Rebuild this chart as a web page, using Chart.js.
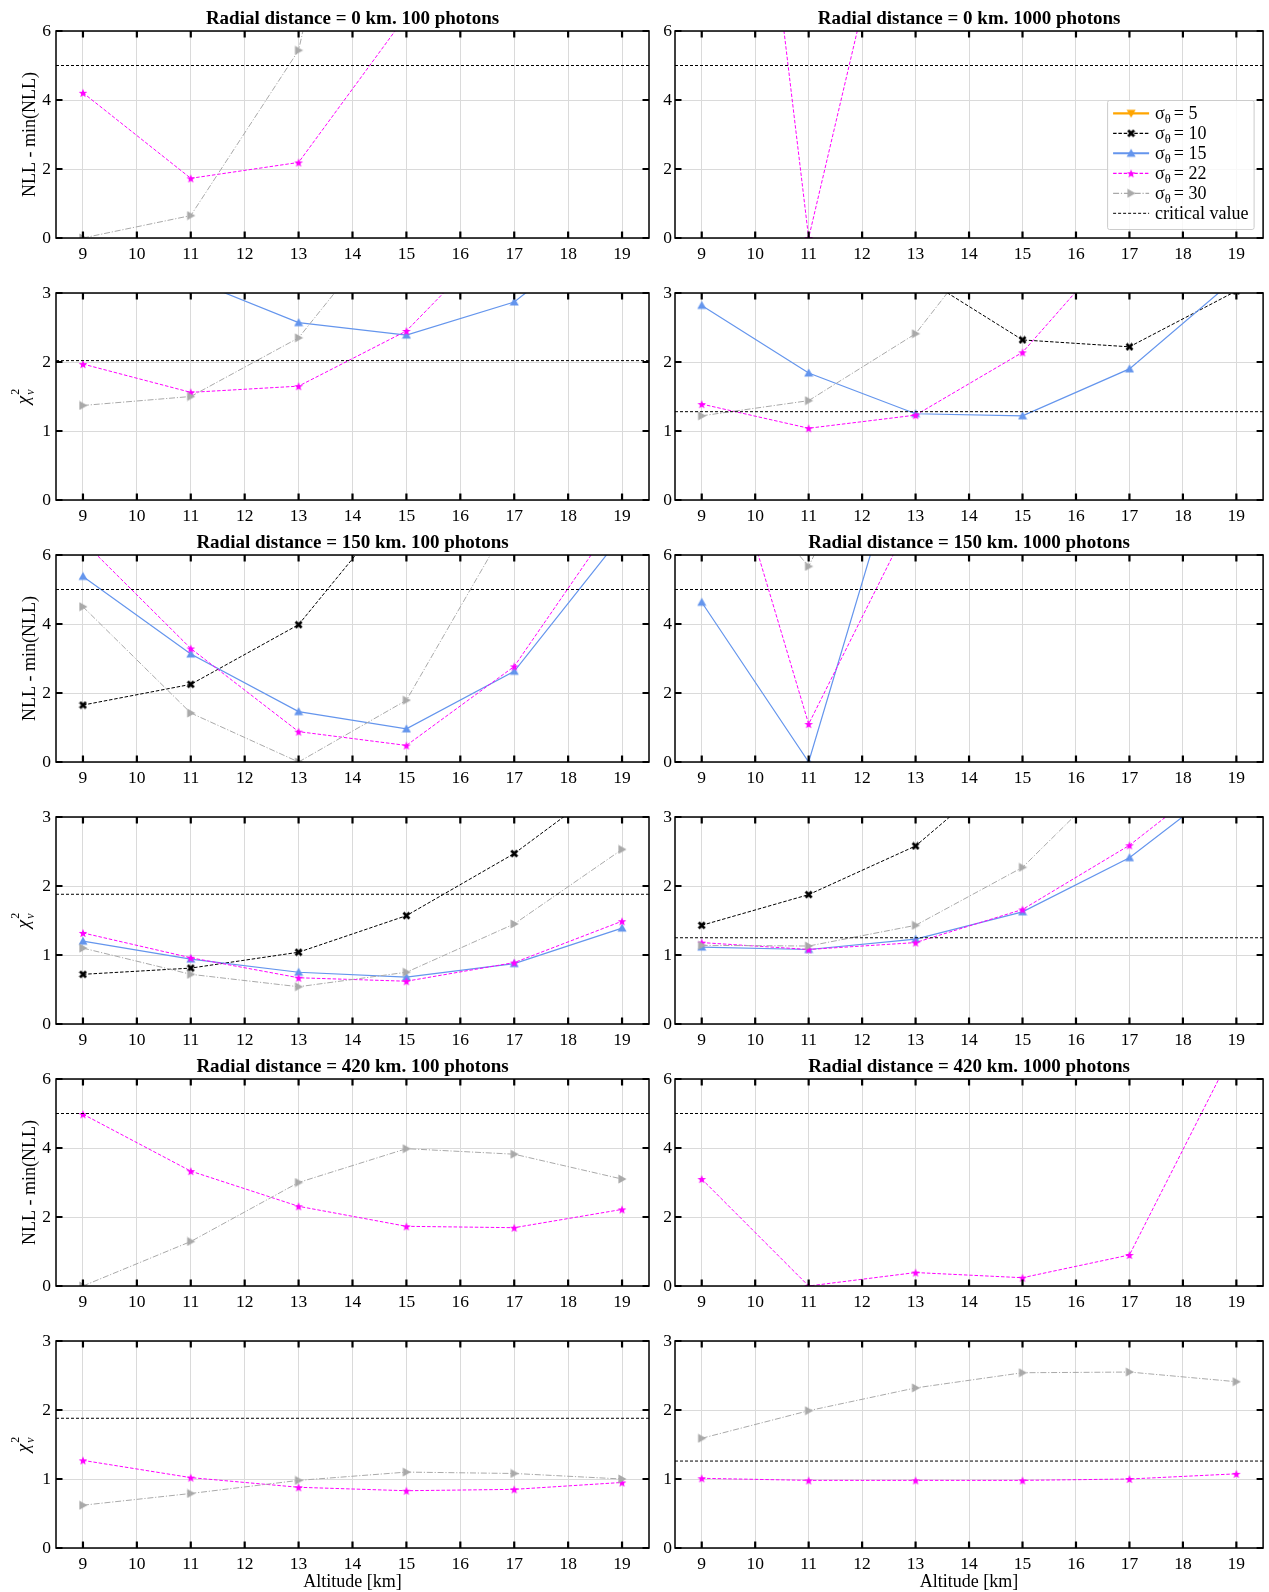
<!DOCTYPE html>
<html>
<head>
<meta charset="utf-8">
<script src="https://cdn.jsdelivr.net/npm/chart.js@4.4.0/dist/chart.umd.min.js"></script>
<style>
  html, body { margin: 0; padding: 0; background: #fff; }
  #page { position: relative; width: 1269px; height: 1592px; overflow: hidden; background: #fff; }
  #page canvas { position: absolute; }
</style>
</head>
<body>
<div id="page"></div>
<script>
// ---- data -------------------------------------------------------------
var altitudes = [9, 11, 13, 15, 17, 19];
var xTicks = [9, 10, 11, 12, 13, 14, 15, 16, 17, 18, 19];
var nllTicks = [0, 2, 4, 6];
var chiTicks = [0, 1, 2, 3];
var sigmaLabels = ['5', '10', '15', '22', '30'];
var radialDistances = [0, 150, 420];
var photonCounts = [100, 1000];

// rows: sigma 5, 10, 15, 22, 30 (null = not on the plot)
var nllR0P100 = [
  [null, null, null, null, null, null],
  [null, null, null, null, null, null],
  [null, null, null, null, null, null],
  [4.21, 1.73, 2.19, 6.45, null, null],
  [0.00, 0.65, 5.44, 19.4, null, null]
];
var chiR0P100 = [
  [null, null, null, null, null, null],
  [null, null, null, null, null, null],
  [3.60, 3.20, 2.57, 2.39, 2.87, 4.10],
  [1.97, 1.56, 1.65, 2.45, 4.05, null],
  [1.37, 1.50, 2.35, 4.30, null, null]
];
var nllR0P1000 = [
  [null, null, null, null, null, null],
  [null, null, null, null, null, null],
  [null, null, null, null, null, null],
  [26.0, 0.00, 13.2, null, null, null],
  [null, null, null, null, null, null]
];
var chiR0P1000 = [
  [null, null, null, null, null, null],
  [null, null, 3.29, 2.32, 2.22, 3.03],
  [2.82, 1.84, 1.25, 1.22, 1.90, 3.22],
  [1.39, 1.04, 1.23, 2.14, 3.90, null],
  [1.22, 1.44, 2.41, 4.40, null, null]
];
var nllR150P100 = [
  [null, null, null, null, null, null],
  [1.65, 2.25, 3.98, 7.80, null, null],
  [5.38, 3.13, 1.46, 0.96, 2.63, 6.57],
  [6.40, 3.29, 0.88, 0.48, 2.77, 7.30],
  [4.50, 1.42, 0.00, 1.79, 7.20, null]
];
var chiR150P100 = [
  [null, null, null, null, null, null],
  [0.72, 0.81, 1.04, 1.57, 2.47, 3.63],
  [1.20, 0.94, 0.75, 0.68, 0.875, 1.39],
  [1.32, 0.96, 0.67, 0.62, 0.89, 1.49],
  [1.10, 0.72, 0.54, 0.75, 1.45, 2.53]
];
var nllR150P1000 = [
  [null, null, null, null, null, null],
  [null, null, null, null, null, null],
  [4.63, 0.00, 10.4, null, null, null],
  [11.5, 1.10, 7.30, null, null, null],
  [9.30, 5.67, 12.0, null, null, null]
];
var chiR150P1000 = [
  [null, null, null, null, null, null],
  [1.43, 1.875, 2.58, 3.90, null, null],
  [1.115, 1.08, 1.23, 1.625, 2.41, 3.60],
  [1.18, 1.08, 1.18, 1.66, 2.59, 3.80],
  [1.14, 1.13, 1.43, 2.27, 3.80, null]
];
var nllR420P100 = [
  [null, null, null, null, null, null],
  [null, null, null, null, null, null],
  [null, null, null, null, null, null],
  [4.98, 3.33, 2.31, 1.73, 1.69, 2.22],
  [0.00, 1.29, 3.00, 3.98, 3.82, 3.10]
];
var chiR420P100 = [
  [null, null, null, null, null, null],
  [null, null, null, null, null, null],
  [null, null, null, null, null, null],
  [1.27, 1.02, 0.88, 0.83, 0.85, 0.95],
  [0.62, 0.79, 0.98, 1.10, 1.08, 1.00]
];
var nllR420P1000 = [
  [null, null, null, null, null, null],
  [null, null, null, null, null, null],
  [null, null, null, null, null, null],
  [3.10, 0.00, 0.39, 0.24, 0.90, 7.00],
  [null, null, null, null, null, null]
];
var chiR420P1000 = [
  [null, null, null, null, null, null],
  [null, null, null, null, null, null],
  [null, null, null, null, null, null],
  [1.01, 0.98, 0.98, 0.98, 1.00, 1.075],
  [1.59, 1.99, 2.32, 2.54, 2.55, 2.41]
];

var critNll = 5;
var critChi = [[2.02, 1.28], [1.88, 1.25], [1.88, 1.26]];

var nllPanels = [[nllR0P100, nllR0P1000], [nllR150P100, nllR150P1000], [nllR420P100, nllR420P1000]];
var chiPanels = [[chiR0P100, chiR0P1000], [chiR150P100, chiR150P1000], [chiR420P100, chiR420P1000]];

// ---- styles -----------------------------------------------------------
var X_MIN = 8.5, X_MAX = 19.5;
var FONT = '"Liberation Serif", "Times New Roman", serif';

function makeMarker(kind, color, size) {
  var c = document.createElement('canvas');
  c.width = size; c.height = size;
  var g = c.getContext('2d');
  var m = size / 2, r = size / 2 - 0.5;
  g.fillStyle = color;
  g.strokeStyle = color;
  g.beginPath();
  if (kind == 'up') {
    g.moveTo(m, m - r); g.lineTo(m + r, m + r * 0.8); g.lineTo(m - r, m + r * 0.8);
  } else if (kind == 'down') {
    g.moveTo(m, m + r); g.lineTo(m - r, m - r * 0.8); g.lineTo(m + r, m - r * 0.8);
  } else if (kind == 'right') {
    g.moveTo(m + r, m); g.lineTo(m - r * 0.8, m - r); g.lineTo(m - r * 0.8, m + r);
  } else if (kind == 'star') {
    for (var k = 0; k < 10; k++) {
      var rr = k % 2 ? r * 0.42 : r;
      var ang = -Math.PI / 2 + k * Math.PI / 5;
      var px = m + rr * Math.cos(ang), py = m + 0.5 + rr * Math.sin(ang);
      if (k == 0) g.moveTo(px, py); else g.lineTo(px, py);
    }
  } else if (kind == 'x') {
    g.lineWidth = size * 0.3;
    g.moveTo(1.5, 1.5); g.lineTo(size - 1.5, size - 1.5);
    g.moveTo(size - 1.5, 1.5); g.lineTo(1.5, size - 1.5);
    g.stroke();
    return c;
  }
  g.closePath();
  g.fill();
  return c;
}

var seriesStyle = [
  { color: '#ffa500', width: 1.4, dash: [], marker: makeMarker('down', '#ffa500', 10) },
  { color: '#000000', width: 1, dash: [3.5, 1.8], marker: makeMarker('x', '#000000', 9) },
  { color: '#6495ed', width: 1.2, dash: [], marker: makeMarker('up', '#6495ed', 10) },
  { color: '#ff00ff', width: 1, dash: [3.5, 1.8], marker: makeMarker('star', '#ff00ff', 10) },
  { color: '#a9a9a9', width: 1, dash: [6, 1.8, 1.2, 1.8], marker: makeMarker('right', '#a9a9a9', 10) }
];

// ---- frame, titles and legend ----------------------------------------
var panelFrame = {
  id: 'panelFrame',
  afterDraw: function (chart, args, opts) {
    var ctx = chart.ctx, a = chart.chartArea;
    var xs = chart.scales.x, ys = chart.scales.y;
    ctx.save();
    ctx.strokeStyle = '#000';
    ctx.lineWidth = 2.2;
    ctx.beginPath();
    xs.ticks.forEach(function (t) {
      var px = xs.getPixelForValue(t.value);
      ctx.moveTo(px, a.bottom); ctx.lineTo(px, a.bottom - 6.5);
      ctx.moveTo(px, a.top); ctx.lineTo(px, a.top + 6.5);
    });
    ys.ticks.forEach(function (t) {
      var py = ys.getPixelForValue(t.value);
      ctx.moveTo(a.left, py); ctx.lineTo(a.left + 6.5, py);
      ctx.moveTo(a.right, py); ctx.lineTo(a.right - 6.5, py);
    });
    ctx.stroke();
    ctx.lineWidth = 1.5;
    ctx.strokeRect(a.left, a.top, a.right - a.left, a.bottom - a.top);

    ctx.fillStyle = '#000';
    if (opts.title) {
      ctx.font = 'bold 19px ' + FONT;
      ctx.textAlign = 'center';
      ctx.textBaseline = 'middle';
      ctx.fillText(opts.title, (a.left + a.right) / 2, a.top - 12);
    }
    var cy = (a.top + a.bottom) / 2;
    if (opts.yTitle == 'nll') {
      ctx.save();
      ctx.translate(30.5, cy);
      ctx.rotate(-Math.PI / 2);
      ctx.font = '18px ' + FONT;
      ctx.textAlign = 'center';
      ctx.textBaseline = 'middle';
      ctx.fillText('NLL - min(NLL)', 0, 0);
      ctx.restore();
    } else if (opts.yTitle == 'chi') {
      ctx.save();
      ctx.translate(22, cy);
      ctx.rotate(-Math.PI / 2);
      ctx.textAlign = 'left';
      ctx.textBaseline = 'alphabetic';
      ctx.font = 'italic 19px ' + FONT;
      var wc = ctx.measureText('χ').width;
      ctx.font = '12px ' + FONT;
      var ws = Math.max(ctx.measureText('2').width, ctx.measureText('ν').width);
      var x0 = -(wc + ws + 1) / 2;
      ctx.font = 'italic 19px ' + FONT;
      ctx.fillText('χ', x0, 7);
      ctx.font = '12px ' + FONT;
      ctx.fillText('2', x0 + wc + 1, -3);
      ctx.font = 'italic 12px ' + FONT;
      ctx.fillText('ν', x0 + wc + 1, 12);
      ctx.restore();
    }

    if (opts.legend) {
      var lx = a.right - 155.5, ly = a.top + 69.5;
      ctx.fillStyle = 'rgba(255,255,255,0.8)';
      ctx.strokeStyle = '#cccccc';
      ctx.lineWidth = 1;
      ctx.beginPath();
      ctx.roundRect(lx, ly, 146.5, 129, 2);
      ctx.fill();
      ctx.stroke();
      chart.data.datasets.forEach(function (d, i) {
        var yy = a.top + 82.3 + 20 * i;
        ctx.save();
        ctx.strokeStyle = d.borderColor;
        ctx.lineWidth = d.sigma ? Math.max(d.borderWidth, 1.2) + (d.borderDash.length ? 0 : 0.8) : 1;
        ctx.setLineDash(d.borderDash || []);
        ctx.beginPath();
        ctx.moveTo(a.right - 150, yy); ctx.lineTo(a.right - 114, yy);
        ctx.stroke();
        ctx.restore();
        if (d.sigma) {
          var img = d.pointStyle;
          ctx.drawImage(img, a.right - 132 - img.width / 2, yy - img.height / 2);
        }
        var tx = a.right - 108;
        ctx.fillStyle = '#000';
        ctx.textAlign = 'left';
        ctx.textBaseline = 'alphabetic';
        if (d.sigma) {
          ctx.font = '18px ' + FONT;
          ctx.fillText('σ', tx, yy + 5.5);
          tx += ctx.measureText('σ').width;
          ctx.font = '12.5px ' + FONT;
          ctx.fillText('θ', tx, yy + 9.5);
          tx += ctx.measureText('θ').width + 3;
          ctx.font = '18px ' + FONT;
          ctx.fillText('= ' + d.sigma, tx, yy + 5.5);
        } else {
          ctx.font = '18px ' + FONT;
          ctx.fillText(d.label, tx, yy + 5.5);
        }
      });
    }
    ctx.restore();
  }
};

function buildDatasets(values, crit) {
  var ds = values.map(function (vals, i) {
    var st = seriesStyle[i];
    return {
      label: 'σθ = ' + sigmaLabels[i],
      sigma: sigmaLabels[i],
      data: altitudes.map(function (a, k) { return { x: a, y: vals[k] }; }),
      borderColor: st.color,
      backgroundColor: st.color,
      borderWidth: st.width,
      borderDash: st.dash,
      pointStyle: st.marker,
      pointRadius: 4.5,
      pointHoverRadius: 4.5,
      tension: 0,
      spanGaps: false,
      fill: false,
      order: 10 - i
    };
  });
  ds.push({
    label: 'critical value',
    data: [{ x: X_MIN, y: crit }, { x: X_MAX, y: crit }],
    borderColor: '#000000',
    borderWidth: 1,
    borderDash: [3, 2],
    pointRadius: 0,
    fill: false,
    order: 0
  });
  return ds;
}

Chart.defaults.font.family = FONT;
Chart.defaults.font.size = 17.5;
Chart.defaults.color = '#000';

var page = document.getElementById('page');

function addPanel(row, col, values, crit, kind, title, legend) {
  var panelTop = 31 + 262 * row;
  var canvasTop = panelTop - 30;
  var last = row == 5;
  var cv = document.createElement('canvas');
  cv.width = col ? 609 : 660;
  cv.height = last ? 1592 - canvasTop : 263;
  cv.style.left = (col ? 660 : 0) + 'px';
  cv.style.top = canvasTop + 'px';
  page.appendChild(cv);
  var yTicks = kind == 'nll' ? nllTicks : chiTicks;

  new Chart(cv.getContext('2d'), {
    type: 'line',
    data: { datasets: buildDatasets(values, crit) },
    plugins: [panelFrame],
    options: {
      responsive: false,
      animation: false,
      events: [],
      devicePixelRatio: 1,
      layout: { padding: { top: 30, left: 0, right: col ? 1 : 11, bottom: 0 } },
      plugins: {
        legend: { display: false },
        tooltip: { enabled: false },
        panelFrame: { title: title, yTitle: col ? null : kind, legend: legend }
      },
      scales: {
        x: {
          type: 'linear',
          min: X_MIN,
          max: X_MAX,
          afterBuildTicks: function (s) { s.ticks = xTicks.map(function (v) { return { value: v }; }); },
          afterFit: function (s) { s.height = last ? 44 : 26; },
          grid: { color: '#dadada', lineWidth: 1, drawTicks: false },
          border: { display: false },
          ticks: { padding: 6, font: { size: 17.5 }, maxRotation: 0 },
          title: { display: last, text: 'Altitude [km]', padding: { top: 0, bottom: -1 }, font: { size: 18 } }
        },
        y: {
          type: 'linear',
          min: yTicks[0],
          max: yTicks[yTicks.length - 1],
          afterBuildTicks: function (s) { s.ticks = yTicks.map(function (v) { return { value: v }; }); },
          afterFit: function (s) { s.width = col ? 15 : 56; },
          grid: { color: '#dadada', lineWidth: 1, drawTicks: false },
          border: { display: false },
          ticks: { padding: col ? 3 : 5, font: { size: 17.5 } }
        }
      }
    }
  });
}

for (var ri = 0; ri < radialDistances.length; ri++) {
  for (var pc = 0; pc < photonCounts.length; pc++) {
    var title = 'Radial distance = ' + radialDistances[ri] + ' km. ' + photonCounts[pc] + ' photons';
    addPanel(ri * 2, pc, nllPanels[ri][pc], critNll, 'nll', title, ri == 0 && pc == 1);
    addPanel(ri * 2 + 1, pc, chiPanels[ri][pc], critChi[ri][pc], 'chi', null, false);
  }
}
</script>
</body>
</html>
